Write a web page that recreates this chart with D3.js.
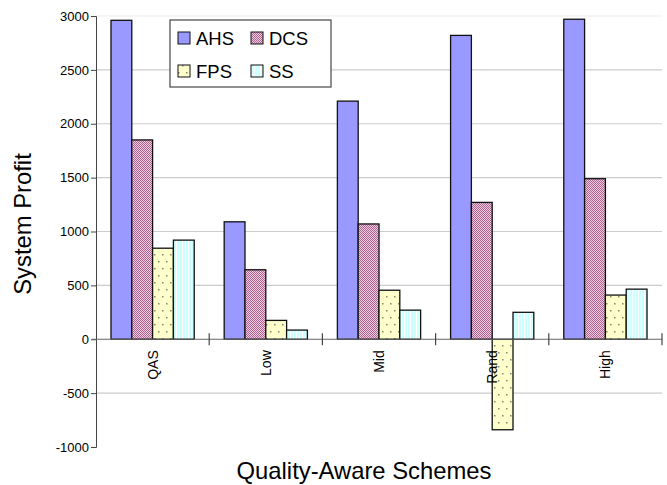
<!DOCTYPE html>
<html><head><meta charset="utf-8">
<script src="https://cdn.jsdelivr.net/npm/d3@7"></script>
<style>body{margin:0;background:#fff}svg{display:block}svg text{font-family:"Liberation Sans",Arial,sans-serif !important}</style>
</head><body><svg id="c" width="667" height="485" font-family="Liberation Sans, Arial, sans-serif"></svg>
<script>
const categories = ["QAS","Low","Mid","Rand","High"];
const seriesNames = ["AHS","DCS","FPS","SS"];
const AHS = [2960,1090,2210,2820,2970];
const DCS = [1850,645,1070,1270,1490];
const FPS = [845,175,455,-840,410];
const SS  = [920,85,270,250,465];
const yTicks = [-1000,-500,0,500,1000,1500,2000,2500,3000];
const values = [AHS,DCS,FPS,SS];

const svg = d3.select("#c");
const defs = svg.append("defs");
const pDCS = defs.append("pattern").attr("id","pDCS").attr("width",2).attr("height",2).attr("patternUnits","userSpaceOnUse");
pDCS.append("rect").attr("width",2).attr("height",2).attr("fill","#f0c8e0");
pDCS.append("rect").attr("width",1).attr("height",1).attr("fill","#aa6690");
pDCS.append("rect").attr("x",1).attr("y",1).attr("width",1).attr("height",1).attr("fill","#aa6690");
const pFPS = defs.append("pattern").attr("id","pFPS").attr("width",8).attr("height",14).attr("patternUnits","userSpaceOnUse");
pFPS.append("rect").attr("width",8).attr("height",14).attr("fill","#ffffcc");
pFPS.append("rect").attr("x",2).attr("y",2).attr("width",1.5).attr("height",1.5).attr("fill","#8a8a6a");
pFPS.append("rect").attr("x",6).attr("y",9).attr("width",1.5).attr("height",1.5).attr("fill","#8a8a6a");
const pSS = defs.append("pattern").attr("id","pSS").attr("width",3).attr("height",3).attr("patternUnits","userSpaceOnUse");
pSS.append("rect").attr("width",3).attr("height",3).attr("fill","#ccffff");
pSS.append("rect").attr("x",2).attr("width",1).attr("height",3).attr("fill","#ffffff");
const fills = ["#9999ff","url(#pDCS)","url(#pFPS)","url(#pSS)"];

const x0 = d3.scaleBand().domain(categories).range([96,662]).paddingInner(0).paddingOuter(0);
const x1 = d3.scaleBand().domain(seriesNames).range([0,x0.bandwidth()]).paddingOuter(0.72).paddingInner(0);
const y = d3.scaleLinear().domain([-1000,3000]).range([447,16]);

svg.append("g").selectAll("line").data(yTicks.filter(d=>d!==0 && d!==-1000)).join("line")
  .attr("x1",96).attr("x2",662).attr("y1",d=>y(d)).attr("y2",d=>y(d))
  .attr("stroke",d=>d===3000?"#eeeeee":"#cccccc").attr("stroke-width",1.2);

const g = svg.append("g");
categories.forEach((c,i)=>{
  seriesNames.forEach((s,j)=>{
    const v = values[j][i];
    g.append("rect")
      .attr("x",x0(c)+x1(s)).attr("width",x1.bandwidth())
      .attr("y",y(Math.max(0,v))).attr("height",Math.abs(y(v)-y(0)))
      .attr("fill",fills[j]).attr("stroke","#111").attr("stroke-width",1.3);
  });
});

const yAxis = d3.axisLeft(y).tickValues(yTicks).tickSize(5).tickFormat(d=>String(d));
const ya = svg.append("g").attr("transform","translate(96,0)").call(yAxis);
ya.attr("font-family",null).attr("font-size",null);
ya.select(".domain").attr("stroke","#444");
ya.selectAll(".tick line").attr("stroke","#444");
ya.selectAll("text").attr("font-size",13).attr("fill","#000").attr("x",-7);

svg.append("line").attr("x1",92).attr("x2",662).attr("y1",y(0)).attr("y2",y(0)).attr("stroke","#666").attr("stroke-width",1.2);
const xAxis = d3.axisBottom(x0).tickSize(0).tickFormat(d=>d);
const xa = svg.append("g").attr("transform",`translate(0,${y(0)})`).call(xAxis);
xa.attr("font-family",null).attr("font-size",null);
xa.select(".domain").remove();
xa.selectAll(".tick text").attr("font-size",14).attr("fill","#000")
  .attr("transform","rotate(-90)").attr("text-anchor","end").attr("x",-11).attr("y",0).attr("dy","0.35em");
svg.append("g").selectAll("line").data([1,2,3,4,5]).join("line")
  .attr("x1",d=> d<5 ? x0(categories[d]) : 662).attr("x2",d=> d<5 ? x0(categories[d]) : 662)
  .attr("y1",y(0)-6).attr("y2",y(0)+6).attr("stroke","#444").attr("stroke-width",1.2);

svg.append("text").attr("x",364).attr("y",479).attr("text-anchor","middle").attr("font-size",23.8).text("Quality-Aware Schemes");
svg.append("text").attr("transform","translate(31,224) rotate(-90)").attr("text-anchor","middle").attr("font-size",23.8).text("System Profit");

const lg = svg.append("g");
lg.append("rect").attr("x",170).attr("y",20).attr("width",161).attr("height",67).attr("fill","#fff").attr("stroke","#555").attr("stroke-width",1.3);
seriesNames.forEach((s,j)=>{
  const lx = 178 + (j%2)*73, ly = 32 + Math.floor(j/2)*33;
  lg.append("rect").attr("x",lx).attr("y",ly).attr("width",12).attr("height",12).attr("fill",fills[j]).attr("stroke","#111").attr("stroke-width",1);
  lg.append("text").attr("x",lx+18).attr("y",ly+12.5).attr("font-size",18.5).text(s);
});
</script></body></html>
